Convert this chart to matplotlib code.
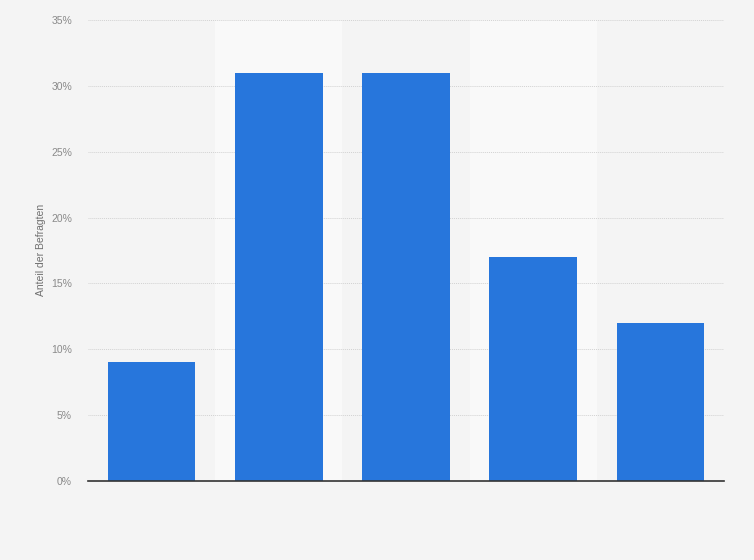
import matplotlib.pyplot as plt
import numpy as np

plt.rcParams['font.family'] = ['Liberation Sans', 'DejaVu Sans']

# categories are not labelled in the chart
categories = ["", "", "", "", ""]
shares = [9, 31, 31, 17, 12]
yticks = [0, 5, 10, 15, 20, 25, 30, 35]
ytick_labels = [f"{t}%" for t in yticks]

fig = plt.figure(figsize=(7.54, 5.6), dpi=100, facecolor="#f4f4f4")
ax = fig.add_axes([88/754, 1-481/560, 636/754, 461/560])
ax.set_facecolor("#f4f4f4")

x = np.arange(len(shares))
for i in x:
    if i % 2 == 1:
        ax.axvspan(i - 0.5, i + 0.5, color="#f9f9f9", zorder=0, lw=0)

ax.bar(x, shares, width=0.69, color="#2776dc", zorder=3)

ax.set_xlim(-0.5, len(shares) - 0.5)
ax.set_ylim(0, 35)
ax.set_yticks(yticks)
ax.set_yticklabels(ytick_labels, fontsize=7.5, color="#8a8a8a")
ax.set_xticks(x)
ax.set_xticklabels(categories)
ax.tick_params(axis="y", length=0, pad=11.5)
ax.tick_params(axis="x", length=0, pad=0)

ax.grid(axis="y", color="#d2d2d2", linestyle=(0, (1, 1)), linewidth=0.7, zorder=1)
for s in ["top", "right", "left"]:
    ax.spines[s].set_visible(False)
ax.spines["bottom"].set_color("#333333")
ax.spines["bottom"].set_linewidth(1.2)
ax.spines["bottom"].set_zorder(4)

ax.set_ylabel("Anteil der Befragten", fontsize=7.5, color="#707070")
ax.yaxis.set_label_coords((46 - 88) / 636, (481 - 250) / 461)

plt.savefig("out.png", dpi=100, facecolor="#f4f4f4")
